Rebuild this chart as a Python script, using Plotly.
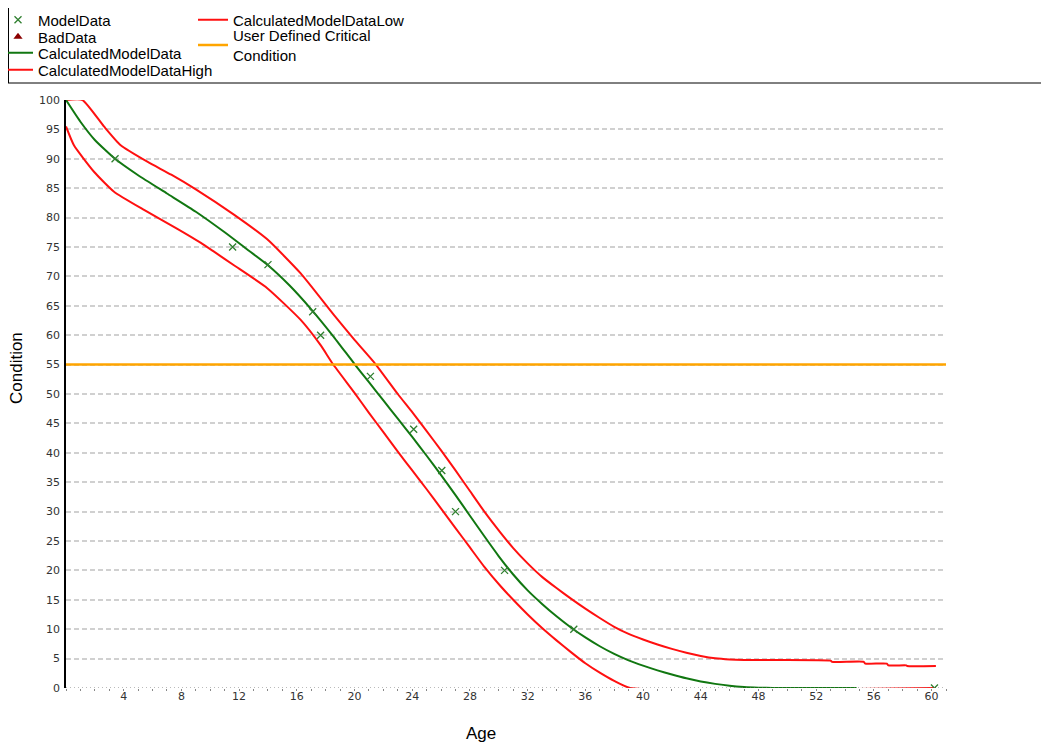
import plotly.graph_objects as go

# ---------------- data ----------------
model_age = [3.4, 11.55, 14.0, 17.1, 17.65, 21.1, 24.1, 26.05, 27.0, 30.4, 35.2, 60.2]
model_cond = [90, 75, 72, 64, 60, 53, 44, 37, 30, 20, 10, 0]

# no bad data points are plotted
bad_age = [None]
bad_cond = [None]

calc_age = [0, 1, 2, 3.4, 5, 7, 9, 11, 12.5, 14, 15.5, 17, 18.5, 20, 21, 22, 23, 24, 25,
            26, 27, 28, 29, 30, 31, 32, 33, 34, 35, 36, 37, 38, 39, 40, 41, 42, 43, 44,
            45, 46, 47, 48, 49, 54.8]
calc_cond = [100, 96.3, 93.2, 90.0, 87.2, 84.1, 81.0, 77.5, 74.7, 71.9, 68.45, 64.4, 59.9,
             55.1, 52.0, 48.9, 45.8, 42.7, 39.5, 36.2, 32.8, 29.3, 25.8, 22.4, 19.3, 16.6,
             14.3, 12.2, 10.3, 8.6, 7.1, 5.8, 4.7, 3.8, 3.0, 2.3, 1.65, 1.1, 0.7, 0.38,
             0.17, 0.06, 0.01, 0.0]

high_age = [0, 1.14, 2.63, 3.79, 5.64, 7.3, 9.0, 11.64, 13.95, 16.27, 18.58, 20.0, 21.45,
            23, 24, 25, 26, 27, 28, 29, 30.13, 31, 32, 33, 34, 35, 36, 37, 38, 39, 40, 41,
            42, 43, 44, 45, 46, 47, 53.0, 53.1, 55.3, 55.4, 56.9, 57.0, 58.25, 58.3, 60.3]
high_cond = [100, 100, 95.5, 92.3, 89.5, 87.3, 84.8, 80.5, 76.3, 70.5, 63.4, 59.2, 55.1,
             50.0, 46.9, 43.7, 40.4, 37.0, 33.5, 30.0, 26.4, 23.8, 21.2, 18.9, 17.0, 15.2,
             13.5, 11.9, 10.4, 9.2, 8.25, 7.4, 6.65, 6.0, 5.45, 5.05, 4.85, 4.76, 4.65,
             4.45, 4.45, 4.15, 4.15, 3.85, 3.85, 3.75, 3.75]

low_age = [0, 0.55, 1.94, 3.33, 5.41, 7.72, 9.35, 10.26, 11.64, 13.95, 16.27, 17.65, 18.5,
           20, 21, 22, 23, 24, 25, 26, 27, 28, 29, 30.13, 31, 32, 33, 34, 35, 36, 37, 38,
           39.1, 60.3]
low_cond = [95.5, 92.3, 87.8, 84.4, 81.3, 78.1, 75.7, 74.2, 71.9, 68.0, 62.6, 58.3, 55.1,
            50.2, 46.8, 43.5, 40.2, 37.0, 33.8, 30.5, 27.2, 23.9, 20.6, 17.3, 15.0, 12.5,
            10.2, 8.1, 6.1, 4.2, 2.6, 1.2, 0.0, 0.0]

critical_age = [0, 61]
critical_cond = [55, 55]

x_tick_vals = list(range(4, 61, 4))
y_tick_vals = list(range(0, 101, 5))

# ---------------- geometry (page pixels; page body has an 8px margin) ----------------
OFF = 8
W, H = 1049 - OFF, 750 - OFF
L, R, T, B = 66 - OFF, 946 - OFF, 100 - OFF, 688 - OFF


def px(page_x):
    return (page_x - OFF - L) / (R - L)


def py(page_y):
    return (B - (page_y - OFF)) / (B - T)


fig = go.Figure()

fig.add_trace(go.Scatter(x=high_age, y=high_cond, mode="lines", name="CalculatedModelDataHigh",
                         line=dict(color="#ff1010", width=2, shape="spline", smoothing=0.5),
                         legend="legend4"))
fig.add_trace(go.Scatter(x=low_age, y=low_cond, mode="lines", name="CalculatedModelDataLow",
                         line=dict(color="#ff1010", width=2, shape="spline", smoothing=0.5),
                         legend="legend5"))
fig.add_trace(go.Scatter(x=calc_age, y=calc_cond, mode="lines", name="CalculatedModelData",
                         line=dict(color="#117711", width=2, shape="spline", smoothing=0.5),
                         legend="legend3"))
fig.add_trace(go.Scatter(x=critical_age, y=critical_cond, mode="lines",
                         name="User Defined Critical<br>Condition",
                         line=dict(color="#ffa500", width=2.5), legend="legend6"))
fig.add_trace(go.Scatter(x=model_age, y=model_cond, mode="markers", name="ModelData",
                         marker=dict(symbol="x-thin", size=7,
                                     line=dict(color="#2f7f2f", width=1.3)),
                         legend="legend"))
fig.add_trace(go.Scatter(x=bad_age, y=bad_cond, mode="markers", name="BadData",
                         marker=dict(symbol="triangle-up", size=8, color="#8b0000"),
                         legend="legend2"))

leg_font = dict(family="Liberation Sans, Arial, sans-serif", size=15, color="#000")
# (legend left edge, item centre) in page pixels
leg_pos = {
    "legend": (-2, 20),
    "legend2": (-2, 37),
    "legend3": (-2, 53),
    "legend4": (-2, 70),
    "legend5": (193, 20),
    "legend6": (193, 45),
}
legends = {}
for key, (lx, ly) in leg_pos.items():
    legends[key] = dict(x=px(lx), y=py(ly), xref="paper", yref="paper",
                        xanchor="left", yanchor="middle", bgcolor="rgba(0,0,0,0)",
                        borderwidth=0, font=leg_font, itemwidth=30,
                        itemclick=False, itemdoubleclick=False)

tick_font = dict(family="DejaVu Sans, Verdana, sans-serif", size=11, color="#333")

fig.update_layout(
    width=W, height=H,
    margin=dict(l=L, r=W - R, t=T, b=H - B, autoexpand=False),
    paper_bgcolor="white", plot_bgcolor="white",
    showlegend=True,
    **legends,
    xaxis=dict(range=[0, 61], tickvals=x_tick_vals, ticktext=[str(v) for v in x_tick_vals],
               showgrid=False, zeroline=False, showline=False,
               ticks="", ticklen=0,
               minor=dict(dtick=1, ticks="outside", ticklen=2, tickcolor="#888", tickwidth=1),
               tickfont=tick_font, fixedrange=True),
    yaxis=dict(range=[0, 100], tickvals=y_tick_vals, ticktext=[str(v) for v in y_tick_vals],
               showgrid=True, gridcolor="#d0d0d0", gridwidth=1.5, griddash="5px,3px",
               zeroline=False, showline=True, linecolor="#000", linewidth=1.5,
               ticks="", tickfont=tick_font, ticklabelstandoff=2, fixedrange=True),
    shapes=[
        # dotted x-axis baseline
        dict(type="line", xref="x", yref="y", x0=0, x1=61, y0=0, y1=0,
             line=dict(color="#777", width=1, dash="1px,3px"), layer="above"),
        # legend frame (left and bottom rules)
        dict(type="line", xref="paper", yref="paper",
             x0=px(8.5), x1=px(8.5), y0=py(8), y1=py(83),
             line=dict(color="#000", width=1)),
        dict(type="line", xref="paper", yref="paper",
             x0=px(8), x1=px(1049), y0=py(83), y1=py(83),
             line=dict(color="#000", width=1)),
    ],
    annotations=[
        dict(text="Condition", xref="paper", yref="paper", x=px(17), y=py(368),
             showarrow=False, textangle=-90, xanchor="center", yanchor="middle",
             font=dict(family="Liberation Sans, Arial, sans-serif", size=17, color="#000")),
        dict(text="Age", xref="paper", yref="paper", x=px(481), y=py(733),
             showarrow=False, xanchor="center", yanchor="middle",
             font=dict(family="Liberation Sans, Arial, sans-serif", size=17, color="#000")),
    ],
)

fig.write_html("out.html")
